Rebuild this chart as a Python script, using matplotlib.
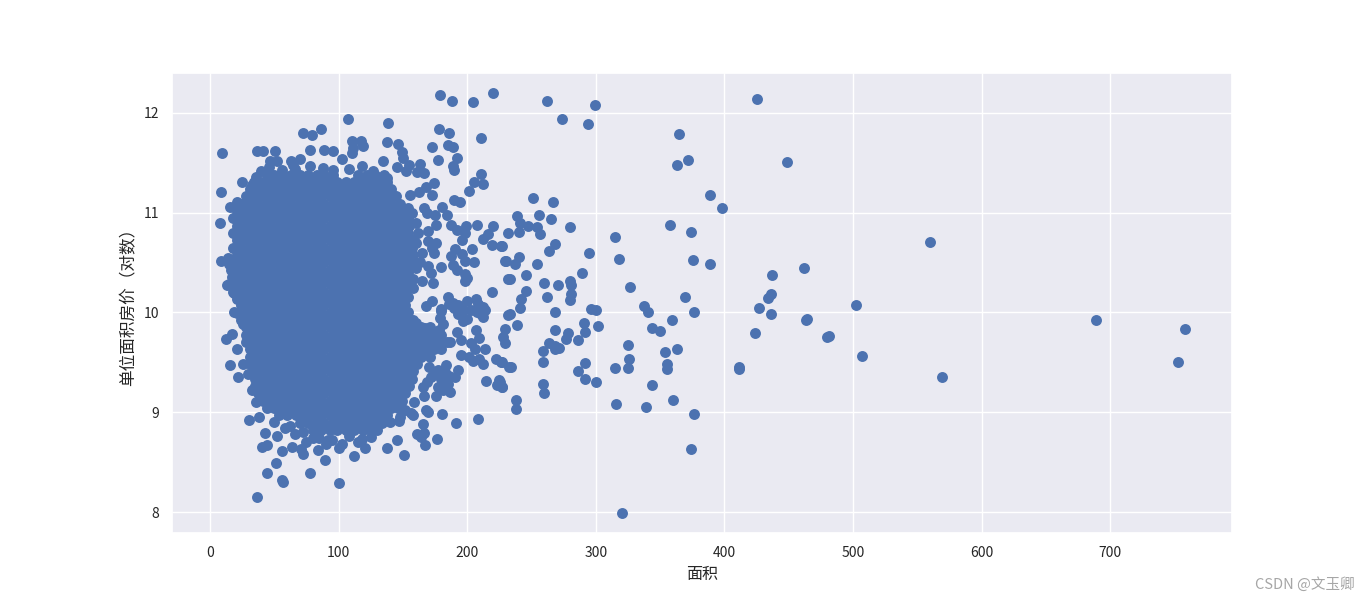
import matplotlib
matplotlib.use('Agg')
import matplotlib.pyplot as plt
import seaborn as sns

# scattered points around the dense cloud
top_x = [262, 299.6, 274, 294, 425, 365, 372, 363.5, 449, 389, 398.5, 251.5, 267, 239, 256, 265, 241, 247, 254.5, 240,
         232, 257, 280, 358, 374, 315, 268, 264, 227, 240, 230, 237.5, 254, 295, 318, 375.5, 389, 246, 233, 289.5,
         260, 271, 280, 281, 437, 462, 327, 246, 242, 262, 281, 280, 369, 436, 434, 241, 268, 337.5]
top_y = [12.12, 12.08, 11.94, 11.89, 12.14, 11.79, 11.53, 11.48, 11.51, 11.18, 11.05, 11.15, 11.11, 10.97, 10.98, 10.94, 10.90, 10.87, 10.86, 10.81,
         10.80, 10.79, 10.86, 10.88, 10.81, 10.76, 10.69, 10.62, 10.67, 10.56, 10.52, 10.49, 10.49, 10.60, 10.54, 10.53, 10.49, 10.38, 10.34, 10.40,
         10.30, 10.28, 10.32, 10.28, 10.38, 10.45, 10.26, 10.22, 10.14, 10.16, 10.19, 10.13, 10.16, 10.19, 10.15, 10.04, 10.00, 10.06]

low_x = [233, 296, 300, 341, 359, 376.5, 427, 436.5, 463.6, 424, 302, 291, 292, 239, 268.5, 278.5, 277, 286, 344, 350,
         325, 363, 354, 264, 268.5, 271.5, 268.5, 259, 259, 234, 227, 292, 286, 326, 315, 325, 355, 355, 411.5, 411.5,
         292, 300, 259, 260, 344, 227, 225.5, 238, 238, 316, 339, 360, 376.5, 374, 320.5, 229.5, 228, 229.5]
low_y = [9.98, 10.03, 10.02, 10.00, 9.92, 10.00, 10.04, 9.98, 9.92, 9.79, 9.86, 9.89, 9.80, 9.87, 9.82, 9.79, 9.73, 9.72, 9.84, 9.81,
         9.67, 9.63, 9.60, 9.69, 9.66, 9.64, 9.63, 9.61, 9.50, 9.45, 9.50, 9.49, 9.41, 9.53, 9.44, 9.44, 9.48, 9.43, 9.45, 9.43,
         9.33, 9.30, 9.28, 9.19, 9.27, 9.25, 9.30, 9.12, 9.03, 9.08, 9.05, 9.12, 8.98, 8.63, 7.99, 9.83, 9.75, 9.69]

far_x = [560, 689, 758, 753, 569, 502, 507, 481, 480, 464]
far_y = [10.71, 9.92, 9.83, 9.50, 9.35, 10.07, 9.56, 9.76, 9.75, 9.93]

upper_x = [107.5, 138.5, 86.5, 72.5, 79.5, 179, 188.5, 204.5, 220, 178, 186, 211, 137.5, 146, 9.5, 36.5, 41, 50.5, 172.5, 185,
           189, 192, 177, 189, 190, 211, 205.5, 212, 201.5, 110.5, 117.5, 119, 111.5, 110.5, 78, 88.5, 95.5, 102.5, 63, 70,
           64.5, 52, 46.5, 134.5, 149, 150, 155, 145.5, 163, 161, 166.5, 152.5, 174, 168, 162.5, 172.5, 155.5, 190, 194.5, 180.5,
           166.5, 169, 175, 184, 154, 25, 8.5, 8, 15.5, 21, 28.5, 36, 176, 169.5, 187.5, 192, 199, 198, 207.5, 220,
           216, 212, 196, 169.5, 176, 172.5, 174, 219, 226, 204, 190.5, 196, 187.5, 198, 205, 229.5, 163, 179.5, 189, 192,
           169.5, 172, 198, 200, 198, 232, 165, 173.5, 158, 219, 185, 189, 193, 200, 207, 172.5, 168, 180, 208.5, 212,
           154, 8.5, 14, 15, 13, 17, 19]
upper_y = [11.94, 11.90, 11.84, 11.80, 11.78, 12.18, 12.12, 12.11, 12.20, 11.84, 11.80, 11.75, 11.71, 11.69, 11.60, 11.62, 11.62, 11.62, 11.66, 11.68,
           11.66, 11.55, 11.53, 11.47, 11.43, 11.39, 11.31, 11.29, 11.22, 11.72, 11.72, 11.67, 11.65, 11.60, 11.63, 11.63, 11.62, 11.54, 11.52, 11.54,
           11.48, 11.52, 11.52, 11.52, 11.61, 11.55, 11.48, 11.46, 11.49, 11.41, 11.40, 11.42, 11.30, 11.26, 11.21, 11.18, 11.18, 11.13, 11.11, 11.06,
           11.05, 11.00, 10.98, 10.98, 11.05, 11.31, 11.21, 10.90, 11.06, 11.11, 11.14, 11.36, 10.88, 10.82, 10.88, 10.83, 10.87, 10.80, 10.88, 10.87,
           10.79, 10.74, 10.73, 10.72, 10.70, 10.65, 10.60, 10.68, 10.67, 10.64, 10.64, 10.59, 10.57, 10.52, 10.51, 10.52, 10.51, 10.46, 10.48, 10.43,
           10.47, 10.40, 10.39, 10.35, 10.32, 10.34, 10.32, 10.30, 10.34, 10.21, 10.16, 10.10, 10.07, 10.12, 10.14, 10.12, 10.06, 10.03, 10.08, 10.05,
           10.16, 10.52, 10.55, 10.49, 10.28, 10.36, 10.20]

lower_x = [180, 197, 212, 232, 207, 209, 214, 203, 206, 192, 178, 181, 179, 167, 154, 160, 195, 195, 201.5, 204.5,
           209, 212, 222.5, 226, 232.5, 183.5, 177, 193, 190.5, 169, 166, 182, 177, 187, 181, 214.5, 225, 223, 227, 166.5,
           176, 158.5, 168, 169.5, 156, 158, 180.5, 191, 208.5, 166, 161, 166.5, 164, 176.5, 167, 145.5, 137.5, 151, 120.5, 112,
           147, 140, 100.5, 78, 57, 56, 44.5, 51.5, 36.5, 89.5, 72.5, 56, 40.5, 44.5, 64, 71, 43, 30.5, 38, 52,
           22, 15.5, 25.5, 29.5, 32.5, 36, 12.5, 17, 21, 19, 25.5]
lower_y = [10.01, 9.91, 9.95, 9.97, 9.82, 9.74, 9.63, 9.69, 9.63, 9.80, 9.82, 9.88, 9.94, 9.84, 10.00, 9.89, 9.72, 9.57, 9.55, 9.51,
           9.53, 9.48, 9.53, 9.50, 9.45, 9.47, 9.42, 9.42, 9.35, 9.30, 9.25, 9.32, 9.25, 9.20, 9.22, 9.31, 9.32, 9.27, 9.25, 9.16,
           9.16, 9.10, 9.02, 9.00, 8.99, 8.97, 8.98, 8.89, 8.93, 8.88, 8.78, 8.79, 8.75, 8.73, 8.67, 8.72, 8.64, 8.57, 8.64, 8.56,
           8.91, 8.90, 8.29, 8.39, 8.30, 8.32, 8.39, 8.49, 8.15, 8.52, 8.58, 8.61, 8.65, 8.67, 8.65, 8.63, 8.79, 8.92, 8.95, 8.76,
           9.35, 9.47, 9.48, 9.38, 9.22, 9.10, 9.73, 9.78, 9.63, 10.00, 9.88]

# rough rim of the cloud
rim_x = [85, 95, 108, 118, 125, 72, 62, 66, 80, 90, 103, 115, 58, 50, 75, 84, 92, 100, 33, 40, 46, 56, 66, 78, 88, 96, 108, 118, 127, 124, 138,
         157, 160, 162, 160, 165, 160, 158, 155, 170, 175, 180, 185, 172, 186, 183, 186, 190, 197, 203, 208, 214, 211, 193, 200, 152, 148]
rim_y = [8.74, 8.72, 8.76, 8.73, 8.75, 8.80, 8.86, 8.78, 8.74, 8.68, 8.68, 8.70, 8.84, 8.90, 8.70, 8.62, 8.72, 8.64, 11.28, 11.42, 11.46, 11.43, 11.44, 11.47, 11.45, 11.43, 11.44, 11.47, 11.42, 11.36, 11.35,
         11.00, 10.90, 10.80, 10.70, 10.60, 10.45, 10.25, 10.30, 9.45, 9.38, 9.33, 9.28, 9.35, 9.36, 9.40, 10.08, 10.04, 10.02, 10.02, 10.00, 10.02, 9.98, 9.98, 9.93, 9.02, 8.95]

# the solid cloud, too dense to tell points apart: estimated row by row
cloud_y = [8.82, 8.89, 8.97, 9.04, 9.11, 9.19, 9.26, 9.33, 9.41, 9.48, 9.55, 9.63, 9.70, 9.77, 9.85, 9.92, 9.99, 10.07,
           10.14, 10.21, 10.29, 10.36, 10.43, 10.51, 10.58, 10.65, 10.73, 10.80, 10.87, 10.95, 11.02, 11.09, 11.17, 11.24, 11.31, 11.38]
cloud_x = [
    [80, 86, 93, 99, 106, 112, 119, 125, 130],
    [70, 76, 83, 89, 96, 102, 109, 115, 122, 128, 134],
    [54, 60, 67, 73, 80, 86, 93, 99, 106, 112, 119, 125, 132, 138],
    [44, 50, 57, 63, 70, 76, 83, 89, 96, 102, 109, 115, 122, 128, 135, 141, 146],
    [41, 47, 54, 60, 67, 73, 80, 86, 93, 99, 106, 112, 119, 125, 132, 138, 145, 149],
    [37, 44, 50, 57, 63, 70, 76, 83, 89, 96, 102, 109, 115, 122, 128, 135, 141, 148, 152],
    [35, 41, 47, 54, 60, 67, 73, 80, 86, 93, 99, 106, 112, 119, 125, 132, 138, 145, 151, 155],
    [35, 37, 44, 50, 57, 63, 70, 76, 83, 89, 96, 102, 109, 115, 122, 128, 135, 141, 148, 154, 157],
    [34, 41, 47, 54, 60, 67, 73, 80, 86, 93, 99, 106, 112, 119, 125, 132, 138, 145, 151, 158],
    [31, 37, 44, 50, 57, 63, 70, 76, 83, 89, 96, 102, 109, 115, 122, 128, 135, 141, 148, 154, 161],
    [31, 34, 41, 47, 54, 60, 67, 73, 80, 86, 93, 99, 106, 112, 119, 125, 132, 138, 145, 151, 158, 164, 171],
    [31, 37, 44, 50, 57, 63, 70, 76, 83, 89, 96, 102, 109, 115, 122, 128, 135, 141, 148, 154, 161, 167, 174, 180],
    [28, 34, 41, 47, 54, 60, 67, 73, 80, 86, 93, 99, 106, 112, 119, 125, 132, 138, 145, 151, 158, 164, 171, 177, 184, 187],
    [28, 31, 37, 44, 50, 57, 63, 70, 76, 83, 89, 96, 102, 109, 115, 122, 128, 135, 141, 148, 154, 161, 167, 174, 180],
    [28, 34, 41, 47, 54, 60, 67, 73, 80, 86, 93, 99, 106, 112, 119, 125, 132, 138, 145, 151, 158, 164, 171],
    [24, 31, 37, 44, 50, 57, 63, 70, 76, 83, 89, 96, 102, 109, 115, 122, 128, 135, 141, 148, 154, 158],
    [21, 28, 34, 41, 47, 54, 60, 67, 73, 80, 86, 93, 99, 106, 112, 119, 125, 132, 138, 145, 151],
    [24, 31, 37, 44, 50, 57, 63, 70, 76, 83, 89, 96, 102, 109, 115, 122, 128, 135, 141, 148, 152],
    [21, 28, 34, 41, 47, 54, 60, 67, 73, 80, 86, 93, 99, 106, 112, 119, 125, 132, 138, 145, 151],
    [18, 24, 31, 37, 44, 50, 57, 63, 70, 76, 83, 89, 96, 102, 109, 115, 122, 128, 135, 141, 148, 152],
    [15, 21, 28, 34, 41, 47, 54, 60, 67, 73, 80, 86, 93, 99, 106, 112, 119, 125, 132, 138, 145, 151],
    [18, 24, 31, 37, 44, 50, 57, 63, 70, 76, 83, 89, 96, 102, 109, 115, 122, 128, 135, 141, 148, 154],
    [16, 21, 28, 34, 41, 47, 54, 60, 67, 73, 80, 86, 93, 99, 106, 112, 119, 125, 132, 138, 145, 151, 155],
    [18, 24, 31, 37, 44, 50, 57, 63, 70, 76, 83, 89, 96, 102, 109, 115, 122, 128, 135, 141, 148, 154, 157],
    [21, 28, 34, 41, 47, 54, 60, 67, 73, 80, 86, 93, 99, 106, 112, 119, 125, 132, 138, 145, 151, 158],
    [18, 24, 31, 37, 44, 50, 57, 63, 70, 76, 83, 89, 96, 102, 109, 115, 122, 128, 135, 141, 148, 154, 157],
    [21, 28, 34, 41, 47, 54, 60, 67, 73, 80, 86, 93, 99, 106, 112, 119, 125, 132, 138, 145, 151, 158],
    [18, 24, 31, 37, 44, 50, 57, 63, 70, 76, 83, 89, 96, 102, 109, 115, 122, 128, 135, 141, 148, 154],
    [21, 28, 34, 41, 47, 54, 60, 67, 73, 80, 86, 93, 99, 106, 112, 119, 125, 132, 138, 145, 151, 155],
    [18, 24, 31, 37, 44, 50, 57, 63, 70, 76, 83, 89, 96, 102, 109, 115, 122, 128, 135, 141, 148, 154],
    [21, 28, 34, 41, 47, 54, 60, 67, 73, 80, 86, 93, 99, 106, 112, 119, 125, 132, 138, 145, 151],
    [24, 31, 37, 44, 50, 57, 63, 70, 76, 83, 89, 96, 102, 109, 115, 122, 128, 135, 141, 148],
    [28, 34, 41, 47, 54, 60, 67, 73, 80, 86, 93, 99, 106, 112, 119, 125, 132, 138, 145],
    [31, 37, 44, 50, 57, 63, 70, 76, 83, 89, 96, 102, 109, 115, 122, 128, 135, 141],
    [34, 41, 47, 54, 60, 67, 73, 80, 86, 93, 99, 106, 112, 119, 125, 132, 138],
    [44, 50, 57, 63, 70, 76, 83, 89, 96, 115, 122, 128, 135],
]

x_ticks = [0, 100, 200, 300, 400, 500, 600, 700]
y_ticks = [8, 9, 10, 11, 12]

all_x = top_x + low_x + far_x + upper_x + lower_x + rim_x
all_y = top_y + low_y + far_y + upper_y + lower_y + rim_y
for row_y, row_x in zip(cloud_y, cloud_x):
    all_x += row_x
    all_y += [row_y] * len(row_x)

sns.set_theme(style='darkgrid')
plt.rcParams['font.family'] = ['Noto Sans CJK SC', 'DejaVu Sans']

fig = plt.figure(figsize=(13.7, 6), dpi=100)
ax = fig.add_axes([172 / 1370, 1 - 533 / 600, 1060 / 1370, 460 / 600])
ax.scatter(all_x, all_y, s=62, color='#4C72B0', linewidths=0)

ax.set_xlim(-29.5, 794.7)
ax.set_ylim(7.79, 12.40)
ax.set_xticks(x_ticks)
ax.set_yticks(y_ticks)
ax.tick_params(labelsize=10)
ax.set_xlabel('面积', fontsize=11.5)
ax.set_ylabel('单位面积房价（对数）', fontsize=12)

fig.text(1355 / 1370, 1 - 584 / 600, 'CSDN @文玉卿', color='#a6a6a6', fontsize=10.5, ha='right', va='center')

plt.savefig('out.png', dpi=100)
